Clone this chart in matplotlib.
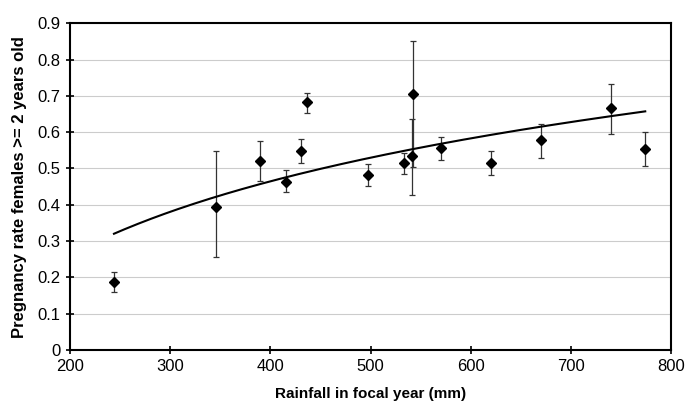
import numpy as np
import matplotlib.pyplot as plt

plt.rcParams['font.family'] = ['Liberation Sans', 'DejaVu Sans']

# rainfall (mm), pregnancy rate, and error bar ends
rainfall = [244, 346, 390, 416, 431, 437, 497, 533, 542, 541, 570, 620, 670, 740, 774]
rate = [0.186, 0.393, 0.521, 0.464, 0.548, 0.682, 0.482, 0.516, 0.706, 0.534,
        0.556, 0.516, 0.577, 0.667, 0.554]
err_hi = [0.216, 0.549, 0.576, 0.495, 0.580, 0.709, 0.513, 0.543, 0.852, 0.637,
          0.586, 0.549, 0.622, 0.732, 0.600]
err_lo = [0.159, 0.257, 0.466, 0.434, 0.515, 0.654, 0.452, 0.486, 0.505, 0.428,
          0.524, 0.483, 0.529, 0.594, 0.508]

# logarithmic trend line: y = a*ln(x) + b
trend_a = 0.292
trend_b = -1.285

fig = plt.figure(figsize=(6.85, 4.2), dpi=100)
ax = fig.add_axes([0.102, 0.1667, 0.878, 0.778])

rate = np.array(rate)
yerr = [rate - np.array(err_lo), np.array(err_hi) - rate]

ax.errorbar(rainfall, rate, yerr=yerr, fmt='none', ecolor='#333333',
            elinewidth=0.9, capsize=2.5, capthick=0.9, zorder=2)
ax.plot(rainfall, rate, 'D', color='black', markersize=5.5, zorder=3)

xs = np.linspace(min(rainfall), max(rainfall), 200)
ax.plot(xs, trend_a * np.log(xs) + trend_b, color='black', lw=1.5, zorder=2.5)

ax.set_xlim(200, 800)
ax.set_ylim(0, 0.9)
ax.set_xticks(range(200, 801, 100))
yt = np.arange(0, 0.91, 0.1)
ax.set_yticks(yt)
ax.set_yticklabels(['0'] + ['%.1f' % v for v in yt[1:]])
ax.yaxis.grid(True, color='#cccccc', lw=0.8)
ax.set_axisbelow(True)
ax.tick_params(direction='inout', length=6, width=1.2, labelsize=12, colors='black')
for s in ax.spines.values():
    s.set_linewidth(1.5)

ax.set_xlabel('Rainfall in focal year (mm)', fontsize=11, fontweight='bold', labelpad=9)
ax.set_ylabel('Pregnancy rate females >= 2 years old', fontsize=12, fontweight='bold', labelpad=8)

fig.savefig('out.png', dpi=100)
